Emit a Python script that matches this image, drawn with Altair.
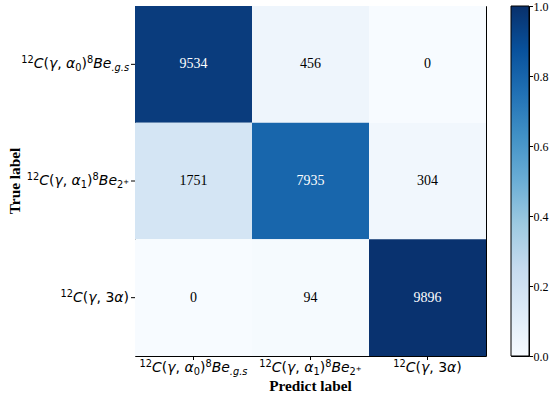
import altair as alt
import pandas as pd

# Class names as typeset runs: (text, role)
#   it = italic base, rm = upright base, sup = superscript, sub = subscript,
#   subit = italic subscript, subsup = superscript on a subscript
class_labels = [
    [("12", "sup"), ("C", "it"), ("(", "rm"), ("γ", "it"), (", ", "rm"), ("α", "it"),
     ("0", "sub"), (")", "rm"), ("8", "sup"), ("Be", "it"), (".g.s", "subit")],
    [("12", "sup"), ("C", "it"), ("(", "rm"), ("γ", "it"), (", ", "rm"), ("α", "it"),
     ("1", "sub"), (")", "rm"), ("8", "sup"), ("Be", "it"), ("2", "sub"), ("+", "subsup")],
    [("12", "sup"), ("C", "it"), ("(", "rm"), ("γ", "it"), (", ", "rm"), ("3", "rm"),
     ("α", "it"), (")", "rm")],
]

# Confusion matrix counts: rows = true class, columns = predicted class
counts = [
    [9534, 456, 0],
    [1751, 7935, 304],
    [0, 94, 9896],
]

x_title = "Predict label"
y_title = "True label"
colorbar_ticks = [0.0, 0.2, 0.4, 0.6, 0.8, 1.0]

# matplotlib "Blues" colormap stops
blues = ["#f7fbff", "#deebf7", "#c6dbef", "#9ecae1", "#6baed6",
         "#4292c6", "#2171b5", "#08519c", "#08306b"]

PLOT_W, PLOT_H = 351, 350
CBAR_W = 18
MATH_FONT = "DejaVu Sans"
SERIF = "Liberation Serif"
TICK = 4
Y_LABEL_GAP = 6      # gap between a row label and the frame
Y_LABEL_DY = 4       # baseline of row labels below the row centre
X_LABEL_BASE = 16    # baseline of column labels below the frame
X_TITLE_BASE = 35    # baseline of the x title below the frame

# role -> (font size, font style, baseline shift)
ROLE = {
    "it": (14, "italic", 0),
    "rm": (14, "normal", 0),
    "sup": (9.8, "normal", -5),
    "sub": (9.8, "normal", 3),
    "subit": (9.8, "italic", 3),
    "subsup": (6.9, "normal", -1),
}

# DejaVu Sans advance widths (em) used to place the runs
ADV = {
    "0": 0.636, "1": 0.636, "2": 0.636, "3": 0.636, "8": 0.636,
    "C": 0.698, "(": 0.390, ")": 0.390, "γ": 0.592, ",": 0.318, " ": 0.318,
    "α": 0.659, "B": 0.686, "e": 0.615, ".": 0.318, "g": 0.635, "s": 0.521,
    "+": 0.838,
}


def text_w(s, size):
    return sum(ADV.get(ch, 0.6) for ch in s) * size


keys = ["".join(t for t, _ in runs) for runs in class_labels]
half_band = PLOT_W / len(keys) / 2

cells = []
for i, t in enumerate(keys):
    total = sum(counts[i])
    for j, p in enumerate(keys):
        cells.append({"true": t, "pred": p, "count": counts[i][j],
                      "frac": counts[i][j] / total})
cells = pd.DataFrame(cells)
thresh = max(max(r) for r in counts) / 2

pieces = []
for key, runs in zip(keys, class_labels):
    widths = [text_w(t, ROLE[r][0]) for t, r in runs]
    total = sum(widths)
    pos = 0.0
    for (t, r), w in zip(runs, widths):
        pieces.append({"cat": key, "text": t, "role": r,
                       "ypx": -Y_LABEL_GAP - total + pos,
                       "xoff": half_band - total / 2 + pos})
        pos += w
pieces = pd.DataFrame(pieces)
cats = pd.DataFrame({"cat": keys})

xscale = alt.Scale(domain=keys, paddingInner=0, paddingOuter=0)
yscale = alt.Scale(domain=keys, paddingInner=0, paddingOuter=0)

heat = alt.Chart(cells).mark_rect().encode(
    x=alt.X("pred:N", scale=xscale, axis=None),
    y=alt.Y("true:N", scale=yscale, axis=None),
    color=alt.Color("frac:Q",
                    scale=alt.Scale(domain=[i / 8 for i in range(9)], range=blues),
                    legend=None),
)

nums = alt.Chart(cells).mark_text(font=SERIF, fontSize=14).encode(
    x=alt.X("pred:N", scale=xscale, axis=None),
    y=alt.Y("true:N", scale=yscale, axis=None),
    text="count:Q",
    color=alt.condition(f"datum.count > {thresh}", alt.value("white"), alt.value("black")),
)

# outward tick marks at the class centres
xticks = alt.Chart(cats).mark_rule(
    color="black", strokeWidth=1, y=alt.expr("height"), y2=alt.expr(f"height + {TICK}")
).encode(x=alt.X("cat:N", scale=xscale, axis=None))
yticks = alt.Chart(cats).mark_rule(
    color="black", strokeWidth=1, x=-TICK, x2=0
).encode(y=alt.Y("cat:N", scale=yscale, axis=None))

title_font = dict(font=SERIF, fontSize=15.3, fontWeight="bold", color="black",
                  align="center", baseline="alphabetic")
xtitle = alt.Chart(pd.DataFrame({"t": [x_title]})).mark_text(
    x=PLOT_W / 2, y=alt.expr(f"height + {X_TITLE_BASE}"), **title_font
).encode(text="t:N")
ytitle = alt.Chart(pd.DataFrame({"t": [y_title]})).mark_text(
    x=-115, y=PLOT_H / 2, angle=270, **title_font
).encode(text="t:N")

layers = [heat, nums, xticks, yticks, xtitle, ytitle]
for role, (size, style, shift) in ROLE.items():
    sel = alt.datum.role == role
    common = dict(font=MATH_FONT, fontSize=size, fontStyle=style, color="black",
                  baseline="alphabetic", align="left")
    # row labels, left of the frame
    layers.append(
        alt.Chart(pieces).transform_filter(sel)
        .mark_text(dy=Y_LABEL_DY + shift, **common)
        .encode(
            x=alt.X("ypx:Q", scale=None, axis=None),
            y=alt.Y("cat:N", scale=yscale, axis=None),
            text="text:N",
        )
    )
    # column labels, below the frame
    layers.append(
        alt.Chart(pieces).transform_filter(sel)
        .mark_text(y=alt.expr(f"height + {X_LABEL_BASE}"), dy=shift, **common)
        .encode(
            x=alt.X("cat:N", scale=xscale, axis=None),
            xOffset=alt.XOffset("xoff:Q", scale=None),
            text="text:N",
        )
    )

main = alt.layer(*layers).properties(width=PLOT_W, height=PLOT_H)

# Colorbar: one rectangle filled with the same colormap as a gradient
gradient = {
    "gradient": "linear", "x1": 0, "x2": 0, "y1": 1, "y2": 0,
    "stops": [{"offset": i / (len(blues) - 1), "color": c} for i, c in enumerate(blues)],
}
cbar = alt.Chart(pd.DataFrame({"lo": [0.0], "hi": [1.0]})).mark_rect(
    color=gradient, stroke="black", strokeWidth=1
).encode(
    y=alt.Y("lo:Q", scale=alt.Scale(domain=[0, 1], nice=False, zero=False),
            axis=alt.Axis(orient="right", values=colorbar_ticks, format=".1f",
                          tickSize=3.5, tickColor="black", tickWidth=1,
                          domain=False, grid=False, labelFont=SERIF,
                          labelFontSize=12, labelColor="black", labelPadding=0.5,
                          title=None)),
    y2="hi:Q",
    x=alt.value(0),
    x2=alt.value(CBAR_W),
).properties(width=CBAR_W, height=PLOT_H)

chart = alt.hconcat(main, cbar, spacing=25, bounds="flush").properties(
    padding={"left": 7, "top": -1, "right": 0, "bottom": 0},
    background="white",
).configure_view(stroke="black", strokeWidth=1)

chart.save("out.html", embed_options={"renderer": "svg", "actions": False})
